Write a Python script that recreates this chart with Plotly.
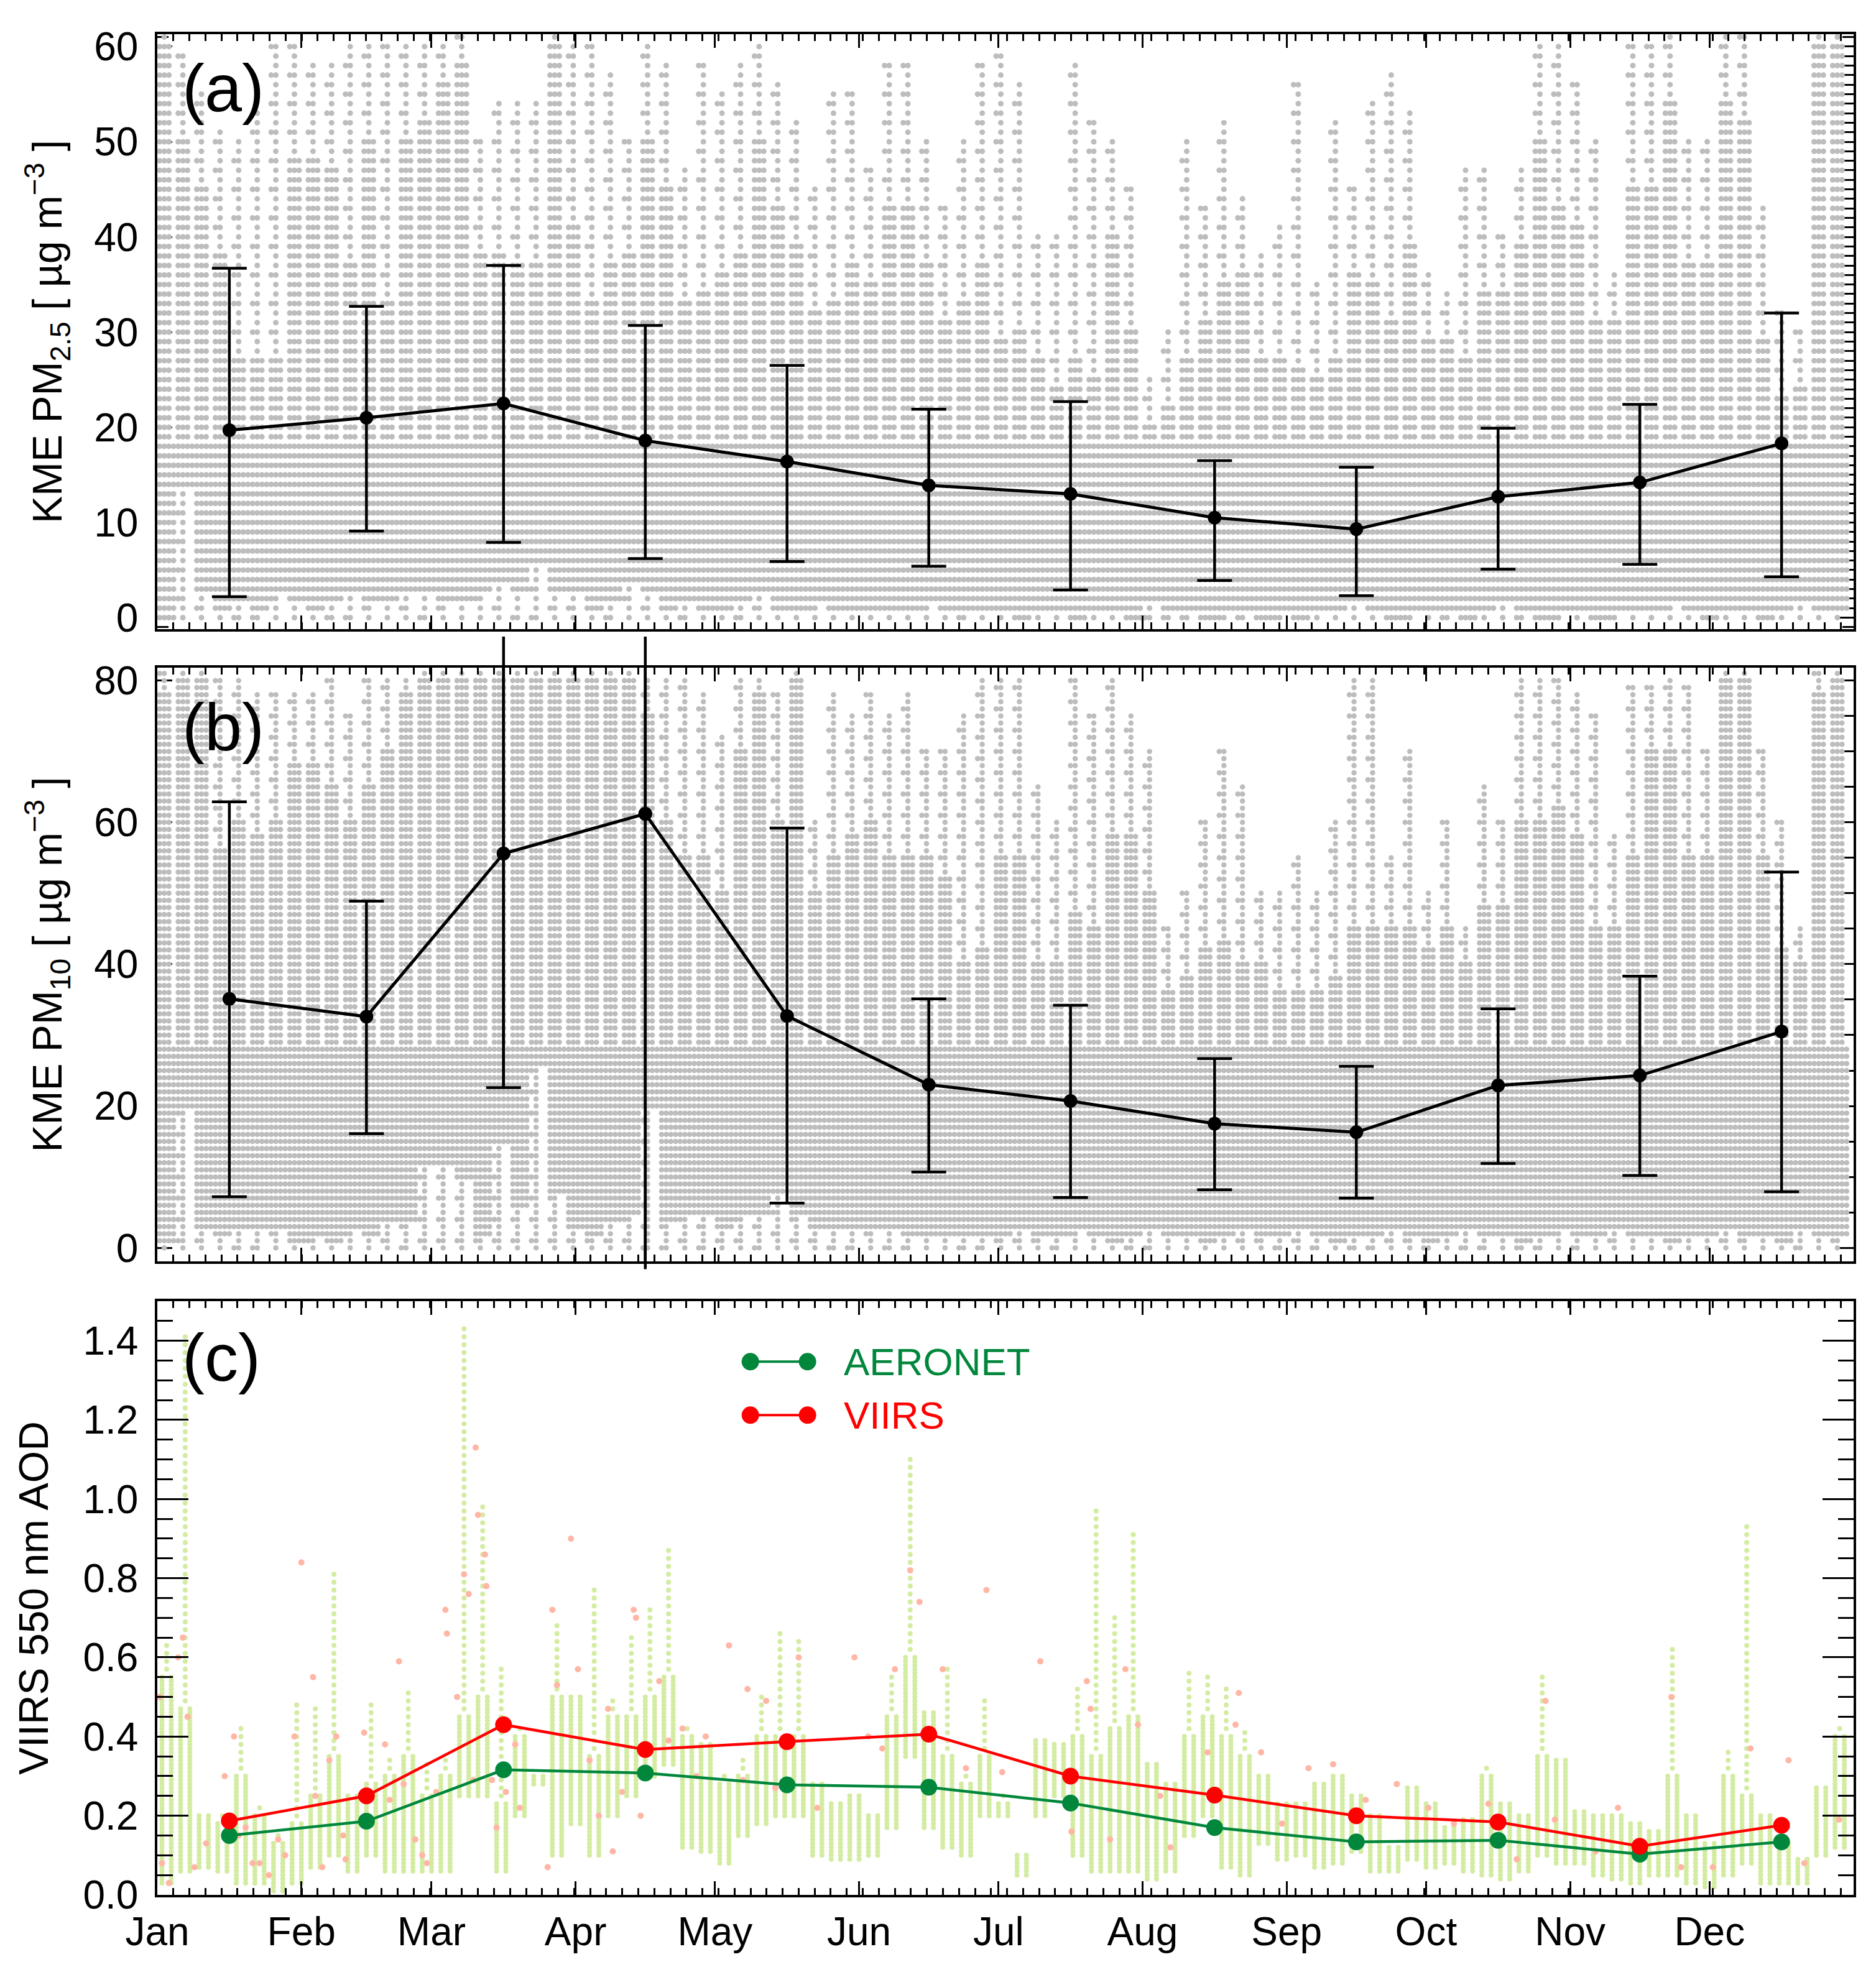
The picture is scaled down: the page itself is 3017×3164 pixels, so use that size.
import numpy as np
import plotly.graph_objects as go

# ---------------- data ----------------
MONTHS = ["Jan", "Feb", "Mar", "Apr", "May", "Jun", "Jul", "Aug", "Sep", "Oct", "Nov", "Dec"]
MONTH_START = [0, 31, 59, 90, 120, 151, 181, 212, 243, 273, 304, 334]
MONTH_MID = [15.5, 45, 74.5, 105, 135.5, 166, 196.5, 227.5, 258, 288.5, 319, 349.5]

PM25_MEAN = [19.7, 21.0, 22.5, 18.6, 16.4, 13.9, 13.0, 10.5, 9.3, 12.7, 14.2, 18.3]
PM25_UPPER = [36.7, 32.7, 37.0, 30.7, 26.5, 21.9, 22.7, 16.5, 15.8, 19.9, 22.4, 32.0]
PM25_LOWER = [2.2, 9.1, 7.9, 6.2, 5.9, 5.4, 2.9, 3.9, 2.3, 5.1, 5.6, 4.3]

PM10_MEAN = [35.1, 32.6, 55.6, 61.2, 32.7, 23.0, 20.7, 17.5, 16.3, 22.9, 24.3, 30.5]
PM10_UPPER = [62.9, 48.9, 86.2, 86.2, 59.2, 35.1, 34.2, 26.7, 25.6, 33.7, 38.3, 53.0]
PM10_LOWER = [7.2, 16.1, 22.6, -3.0, 6.3, 10.7, 7.1, 8.2, 7.0, 11.9, 10.2, 7.9]

AERONET_MEAN = [0.150, 0.186, 0.316, 0.308, 0.278, 0.272, 0.232, 0.170, 0.134, 0.138, 0.103, 0.134]
VIIRS_MEAN = [0.187, 0.250, 0.430, 0.367, 0.387, 0.406, 0.300, 0.252, 0.200, 0.184, 0.123, 0.176]

# hourly-data clouds, read per 4-day bin (day of year of bin start)
BIN_START = list(range(0, 364, 4))

PM25_BOTTOM = [0, 14, 3, 1, 2, 1, 3, 2, 1, 2, 3, 2, 2, 3, 3, 2, 2, 3, 4, 3, 6, 3, 3, 1, 2, 4, 3, 1, 2, 1,
               1, 2, 3, 1, 1, 2, 1, 1, 1, 1, 1, 2, 1, 1, 1,
               1, 0, 1, 1, 0, 1, 1, 0, 2, 1, 1, 0, 1, 1, 0, 1, 0, 1, 1, 2, 1, 0, 1, 1, 1, 0, 1, 2, 1, 0,
               1, 1, 0, 1, 1, 1, 2, 1, 0, 1, 1, 0, 1, 2, 1, 1]
PM25_DENSE = [60, 50, 45, 38, 27, 27, 27, 48, 48, 47, 37, 50, 33, 50, 52, 56, 58, 38, 38, 37, 37, 60, 41, 33,
              37, 38, 50, 45, 33, 34, 36, 38, 50, 43, 39, 32, 33, 37, 35, 43, 43, 37, 31, 33, 37,
              29, 30, 27, 24, 27, 25, 40, 30, 20, 22, 27, 31, 35, 36, 27, 27, 26, 25, 27, 36, 35, 31, 39,
              29, 29, 27, 34, 34, 39, 50, 43, 41, 31, 31, 45, 45, 54, 37, 37, 54, 52, 29, 23, 24, 60, 60]
PM25_SPARSE = [61, 59, 55, 51, 50, 53, 60, 60, 58, 58, 60, 60, 60, 60, 60, 60, 61, 50, 54, 54, 54, 61, 60, 60,
               57, 50, 60, 58, 47, 58, 55, 58, 60, 56, 52, 45, 55, 55, 47, 58, 58, 50, 43, 50, 58,
               59, 56, 40, 40, 58, 52, 50, 45, 25, 30, 50, 43, 52, 44, 38, 41, 56, 35, 52, 45, 54, 57, 53,
               36, 34, 47, 47, 40, 47, 60, 60, 56, 50, 36, 60, 60, 61, 50, 50, 61, 61, 43, 32, 30, 61, 61]

PM10_BOTTOM = [1, 20, 3, 2, 3, 3, 3, 1, 2, 1, 3, 2, 4, 4, 12, 12, 10, 2, 15, 6, 26, 8, 3, 2, 4, 5, 20, 4, 5, 5,
               3, 5, 5, 8, 5, 3, 3, 3, 3, 3, 2, 2, 2, 2, 2,
               2, 3, 2, 2, 3, 2, 1, 2, 3, 2, 2, 1, 2, 3, 2, 2, 3, 2, 1, 2, 2, 3, 2, 1, 2, 3, 2, 2, 1, 2,
               3, 2, 2, 3, 2, 2, 1, 2, 2, 3, 2, 2, 1, 3, 2, 2]
PM10_DENSE = [78, 80, 80, 56, 60, 58, 60, 68, 68, 65, 60, 65, 70, 78, 80, 80, 80, 80, 80, 80, 80, 80, 80, 80,
              80, 80, 75, 60, 55, 55, 50, 70, 78, 60, 80, 50, 55, 58, 60, 55, 55, 55, 52, 40, 42,
              55, 55, 40, 40, 47, 45, 58, 58, 50, 36, 38, 42, 43, 40, 40, 36, 36, 36, 38, 45, 45, 45, 45,
              42, 45, 40, 48, 48, 60, 60, 62, 58, 45, 45, 55, 70, 70, 55, 55, 80, 80, 55, 42, 40, 78, 80]
PM10_SPARSE = [81, 81, 81, 80, 80, 78, 78, 78, 78, 80, 75, 80, 80, 80, 81, 81, 81, 81, 81, 81, 81, 81, 81, 81,
               81, 81, 80, 80, 80, 78, 72, 80, 80, 78, 81, 60, 78, 75, 78, 75, 78, 70, 70, 75, 80,
               80, 80, 65, 60, 80, 75, 80, 75, 70, 45, 50, 60, 70, 65, 50, 50, 55, 50, 60, 80, 80, 55, 70,
               50, 60, 45, 65, 60, 80, 80, 80, 78, 75, 58, 79, 79, 80, 79, 70, 81, 81, 70, 60, 45, 81, 81]

# VIIRS 550 nm AOD retrieval streaks per 4-day bin: low end, high end of main streaks, tallest value
AOD_LO = [.03, .06, .07, .06, .03, .03, .01, .03, .07, .10, .06, .10, .06, .06, .06, .06, .25, .25, .06, .20,
          .28, .10, .18, .10, .20, .25, .30, .33, .12, .11, .08, .15, .18, .20, .20, .10, .09, .09, .10, .17,
          .35, .17, .12, .10, .20, .20, .05, .20, .25, .10, .06, .06, .06, .04, .06, .15, .20, .07, .05, .13,
          .09, .10, .07, .08, .11, .06, .06, .09, .07, .08, .06, .05, .04, .06, .10, .08, .08, .05, .04, .03,
          .05, .05, .03, .02, .05, .08, .03, .03, .03, .10, .12]
AOD_HI = [.55, .47, .20, .18, .30, .20, .13, .18, .25, .35, .25, .28, .30, .35, .25, .30, .45, .50, .23, .40,
          .30, .50, .50, .35, .45, .45, .50, .55, .40, .38, .28, .30, .40, .40, .40, .28, .23, .25, .20, .45,
          .60, .46, .35, .28, .35, .23, .10, .39, .38, .40, .35, .42, .45, .33, .28, .40, .45, .40, .35, .30,
          .23, .23, .28, .30, .25, .20, .12, .27, .23, .17, .19, .30, .23, .20, .35, .34, .21, .20, .20, .18,
          .16, .30, .20, .13, .30, .25, .20, .13, .09, .27, .40]
AOD_PEAK = [.64, 1.42, .20, .20, .43, .22, .15, .48, .48, .82, .26, .49, .35, .50, .33, .35, 1.43, .98, .56, .42,
            .30, .67, .51, .77, .50, .65, .72, .88, .43, .38, .30, .35, .50, .67, .65, .29, .23, .25, .20, .55,
            1.10, .46, .58, .30, .49, .25, .10, .39, .38, .52, .98, .70, .91, .33, .28, .57, .55, .52, .40, .30,
            .23, .23, .28, .30, .25, .20, .12, .27, .23, .17, .19, .32, .23, .20, .54, .34, .21, .20, .20, .18,
            .16, .62, .20, .13, .37, .93, .20, .13, .09, .27, .43]

# AERONET-matched individual values (pink dots)
PINK_DAY = [0.5, 1, 2.5, 4.5, 5.5, 6.5, 8, 10.5, 14.5, 16.5, 17.5, 19, 20.5, 22, 24, 26, 27.5, 29.5, 31, 33.5,
            34, 35.5, 37, 38.5, 40, 40.5, 44.5, 49, 50, 52, 53, 55.5, 57, 58, 60, 62, 62.3, 64.5, 66, 67,
            68, 68.5, 69, 70.5, 70.8, 72, 73, 75, 77, 78, 84, 85, 86, 89, 90.5, 93, 95, 97, 98, 100,
            102.5, 103, 104, 108, 110, 113, 116, 118, 123, 126, 127, 131, 133, 138, 142, 150, 153, 156, 158.7, 162,
            164, 169, 174, 178.4, 181.8, 190, 196.7, 200, 200.8, 205, 208.3, 211, 215.8, 218, 226, 232, 232.7, 237.5,
            242, 247.7, 253, 260, 266.7, 273.5, 279, 286.4, 292.5, 298.7, 300.7, 309.5, 314.3, 325.8, 327.9, 334.7,
            342.8, 351, 354.4, 361.9]
PINK_AOD = [0.50, 0.08, 0.03, 0.60, 0.65, 0.45, 0.07, 0.13, 0.30, 0.40, 0.15, 0.17, 0.08, 0.08, 0.05, 0.14,
            0.10, 0.40, 0.84, 0.55, 0.25, 0.07, 0.34, 0.40, 0.15, 0.09, 0.41, 0.38, 0.24, 0.59, 0.28, 0.14,
            0.10, 0.08, 0.26, 0.72, 0.66, 0.50, 0.81, 0.76, 0.29, 1.13, 0.96, 0.86, 0.78, 0.29, 0.17, 0.26,
            0.38, 0.22, 0.07, 0.72, 0.53, 0.90, 0.57, 0.34, 0.20, 0.47, 0.11, 0.26, 0.72, 0.70, 0.20, 0.54,
            0.39, 0.42, 0.30, 0.40, 0.63, 0.29, 0.52, 0.49, 0.27, 0.60, 0.22, 0.60, 0.40, 0.37, 0.57, 0.82,
            0.74, 0.57, 0.32, 0.77, 0.31, 0.59, 0.16, 0.54, 0.47, 0.14, 0.57, 0.43, 0.25, 0.12, 0.36, 0.43,
            0.51, 0.36, 0.18, 0.32, 0.33, 0.24, 0.28, 0.22, 0.18, 0.23, 0.09, 0.49, 0.19, 0.11, 0.22, 0.50,
            0.07, 0.07, 0.37, 0.34, 0.08, 0.19]

# ---------------- styling ----------------
W, H = 3017, 3164
ML, MR, MT, MB = 245, 44, 47, 124
FONT = "Liberation Sans, Arial, Helvetica, sans-serif"
TICK_SIZE = 64
TITLE_SIZE = 66
PANEL_SIZE = 108
GRAY = "#BDBDBD"
LIGHT_GREEN = "#D3ECA2"
PINK = "#FFB6A4"
GREEN = "#00873C"
RED = "#FF0000"

DOM_A = [0.6803, 1.0]
DOM_B = [0.3405, 0.6595]
DOM_C = [0.0, 0.3191]
RANGE_A = [-1.2, 61.3]
RANGE_B = [-1.9, 81.8]
RANGE_C = [0.0, 1.5]
SOLID_A = 18   # below this level rows appear unbroken
SOLID_B = 28


def cloud(bottoms, dense, sparse, solid):
    xs, ys = [], []
    for s, lo, hi, top in zip(BIN_START, bottoms, dense, sparse):
        rows = np.arange(lo, hi + 0.5, 1.0)
        for d in (0.5, 1.5, 2.5):
            xs.extend([s + d] * len(rows))
            ys.extend(rows.tolist())
        low_rows = rows[rows <= solid]
        xs.extend([s + 3.5] * len(low_rows))
        ys.extend(low_rows.tolist())
        # sparse values above the dense band and below its lower edge
        extra = list(np.arange(hi + 1, top + 0.5, 1.0)) + list(np.arange(0, lo - 0.5, 1.0))
        for k, r in enumerate(extra):
            xs.append(s + 1.5)
            ys.append(r)
            if k % 3 == 2:
                xs.append(s + 0.5)
                ys.append(r)
    return xs, ys


def streaks(lo_arr, hi_arr, pk_arr):
    xs, ys = [], []
    for s, lo, hi, pk in zip(BIN_START, lo_arr, hi_arr, pk_arr):
        rows = np.arange(lo, hi + 0.005, 0.01)
        for d in (1.0, 3.0):
            xs.extend([s + d] * len(rows))
            ys.extend(rows.tolist())
        up = np.arange(hi + 0.02, pk + 0.01, 0.02)
        xs.extend([s + 2.0] * len(up))
        ys.extend(up.tolist())
    return xs, ys


fig = go.Figure()

# ---- panel (a) ----
xa, ya = cloud(PM25_BOTTOM, PM25_DENSE, PM25_SPARSE, SOLID_A)
fig.add_trace(go.Scatter(x=xa, y=ya, mode="markers", xaxis="x", yaxis="y",
                         marker=dict(color=GRAY, size=9, line=dict(width=0)),
                         hoverinfo="skip", showlegend=False))
fig.add_trace(go.Scatter(
    x=MONTH_MID, y=PM25_MEAN, mode="lines+markers", xaxis="x", yaxis="y",
    line=dict(color="black", width=5), marker=dict(color="black", size=22),
    error_y=dict(type="data", symmetric=False,
                 array=[u - m for u, m in zip(PM25_UPPER, PM25_MEAN)],
                 arrayminus=[m - l for m, l in zip(PM25_MEAN, PM25_LOWER)],
                 color="black", thickness=4.5, width=28),
    showlegend=False))

# ---- panel (b) ----
xb, yb = cloud(PM10_BOTTOM, PM10_DENSE, PM10_SPARSE, SOLID_B)
fig.add_trace(go.Scatter(x=xb, y=yb, mode="markers", xaxis="x2", yaxis="y2",
                         marker=dict(color=GRAY, size=8.5, line=dict(width=0)),
                         hoverinfo="skip", showlegend=False))
fig.add_trace(go.Scatter(
    x=MONTH_MID, y=PM10_MEAN, mode="lines+markers", xaxis="x2", yaxis="y2",
    line=dict(color="black", width=5), marker=dict(color="black", size=22),
    error_y=dict(type="data", symmetric=False,
                 array=[u - m for u, m in zip(PM10_UPPER, PM10_MEAN)],
                 arrayminus=[m - l for m, l in zip(PM10_MEAN, PM10_LOWER)],
                 color="black", thickness=4.5, width=28),
    showlegend=False))

# bars that run off panel (b): drawn uncapped on a same-scale axis with a taller window
off = [i for i in range(12) if PM10_UPPER[i] > RANGE_B[1] or PM10_LOWER[i] < RANGE_B[0]]
EXT_RANGE = [min(PM10_LOWER) - 0.6, max(PM10_UPPER) + 0.6]
frac_per_unit = (DOM_B[1] - DOM_B[0]) / (RANGE_B[1] - RANGE_B[0])
DOM_EXT = [DOM_B[0] - (RANGE_B[0] - EXT_RANGE[0]) * frac_per_unit,
           DOM_B[1] + (EXT_RANGE[1] - RANGE_B[1]) * frac_per_unit]
fig.add_trace(go.Scatter(
    x=[MONTH_MID[i] for i in off], y=[PM10_MEAN[i] for i in off], mode="markers",
    xaxis="x4", yaxis="y4", marker=dict(color="black", size=22),
    error_y=dict(type="data", symmetric=False,
                 array=[PM10_UPPER[i] - PM10_MEAN[i] for i in off],
                 arrayminus=[PM10_MEAN[i] - PM10_LOWER[i] for i in off],
                 color="black", thickness=4.5, width=0),
    showlegend=False, hoverinfo="skip"))

# ---- panel (c) ----
xc, yc = streaks(AOD_LO, AOD_HI, AOD_PEAK)
fig.add_trace(go.Scatter(x=xc, y=yc, mode="markers", xaxis="x3", yaxis="y3",
                         marker=dict(color=LIGHT_GREEN, size=8, line=dict(width=0)),
                         hoverinfo="skip", showlegend=False))
fig.add_trace(go.Scatter(x=PINK_DAY, y=PINK_AOD, mode="markers", xaxis="x3", yaxis="y3",
                         marker=dict(color=PINK, size=10, line=dict(width=0)),
                         hoverinfo="skip", showlegend=False))
fig.add_trace(go.Scatter(x=MONTH_MID, y=AERONET_MEAN, mode="lines+markers", xaxis="x3", yaxis="y3",
                         line=dict(color=GREEN, width=4.5), marker=dict(color=GREEN, size=27),
                         name="AERONET", showlegend=False))
fig.add_trace(go.Scatter(x=MONTH_MID, y=VIIRS_MEAN, mode="lines+markers", xaxis="x3", yaxis="y3",
                         line=dict(color=RED, width=4.5), marker=dict(color=RED, size=27),
                         name="VIIRS", showlegend=False))


def xaxis(anchor, labels):
    d = dict(domain=[0, 1], anchor=anchor, range=[0, 365],
             tickmode="array", tickvals=MONTH_START,
             showticklabels=labels, ticks="inside", ticklen=22, tickwidth=3, tickcolor="black",
             minor=dict(tickmode="linear", tick0=0, dtick=3.45, ticks="inside", ticklen=11,
                        tickwidth=2.5, tickcolor="black", showgrid=False),
             showline=True, linewidth=3.5, linecolor="black", mirror="ticks",
             showgrid=False, zeroline=False,
             tickfont=dict(size=TICK_SIZE, color="black", family=FONT),
             ticklabelstandoff=0)
    if labels:
        d["ticktext"] = MONTHS
    return d


def yaxis(anchor, domain, rng, vals, text, major_len, minor_dtick, minor_len, title, layer, standoff):
    return dict(domain=domain, anchor=anchor, range=rng,
                tickmode="array", tickvals=vals, ticktext=text,
                ticks="inside", ticklen=major_len, tickwidth=3, tickcolor="black",
                minor=dict(tickmode="linear", tick0=0, dtick=minor_dtick, ticks="inside",
                           ticklen=minor_len, tickwidth=2.5, tickcolor="black", showgrid=False),
                showline=True, linewidth=3.5, linecolor="black", mirror="ticks",
                showgrid=False, zeroline=False, layer=layer,
                tickfont=dict(size=TICK_SIZE, color="black", family=FONT),
                ticklabelstandoff=14,
                title=dict(text=title, font=dict(size=TITLE_SIZE, color="black", family=FONT),
                           standoff=standoff))


vals_a = [0, 10, 20, 30, 40, 50, 60]
vals_b = [0, 20, 40, 60, 80]
vals_c = [0.0, 0.2, 0.4, 0.6, 0.8, 1.0, 1.2, 1.4]

fig.update_layout(
    width=W, height=H, autosize=False,
    margin=dict(l=ML, r=MR, t=MT, b=MB),
    paper_bgcolor="white", plot_bgcolor="rgba(0,0,0,0)",
    font=dict(family=FONT, color="black"),
    showlegend=False,
    xaxis=xaxis("y", False),
    xaxis2=xaxis("y2", False),
    xaxis3=xaxis("y3", True),
    yaxis=yaxis("x", DOM_A, RANGE_A, vals_a, [str(v) for v in vals_a], 24, 1, 18,
                "KME PM<sub>2.5</sub> [ µg m<sup>−3</sup> ]", "below traces", 31),
    yaxis2=yaxis("x2", DOM_B, RANGE_B, vals_b, [str(v) for v in vals_b], 24, 5, 18,
                 "KME PM<sub>10</sub> [ µg m<sup>−3</sup> ]", "below traces", 31),
    yaxis3=yaxis("x3", DOM_C, RANGE_C, vals_c, [f"{v:.1f}" for v in vals_c], 50, 0.05, 25,
                 "VIIRS 550 nm AOD", "above traces", 35),
    xaxis4=dict(domain=[0, 1], range=[0, 365], anchor="y4", visible=False, showgrid=False,
                zeroline=False),
    yaxis4=dict(domain=DOM_EXT, range=EXT_RANGE, anchor="x4", visible=False, showgrid=False,
                zeroline=False),
)

# panel letters
for xref, yref, txt, yp in [("x domain", "y domain", "(a)", 0.91), ("x2 domain", "y2 domain", "(b)", 0.90),
                            ("x3 domain", "y3 domain", "(c)", 0.905)]:
    fig.add_annotation(x=0.014, y=yp, xref=xref, yref=yref, text=txt, showarrow=False,
                       xanchor="left", yanchor="middle",
                       font=dict(size=PANEL_SIZE, color="black", family=FONT))

# legend in panel (c): two dots joined by a line, coloured label
for ypos, col, name in [(0.898, GREEN, "AERONET"), (0.808, RED, "VIIRS")]:
    yp = DOM_C[0] + ypos * (DOM_C[1] - DOM_C[0])
    x0, x1 = 0.3496, 0.3833
    fig.add_shape(type="line", xref="paper", yref="paper", x0=x0, x1=x1, y0=yp, y1=yp,
                  line=dict(color=col, width=4))
    for xp in (x0, x1):
        fig.add_shape(type="circle", xref="paper", yref="paper", xsizemode="pixel", ysizemode="pixel",
                      xanchor=xp, yanchor=yp, x0=-14, x1=14, y0=-14, y1=14,
                      fillcolor=col, line=dict(color=col, width=0))
    fig.add_annotation(x=0.404, y=yp, xref="paper", yref="paper", text=name, showarrow=False,
                       xanchor="left", yanchor="middle",
                       font=dict(size=62, color=col, family=FONT))

fig.write_html("out.html")
